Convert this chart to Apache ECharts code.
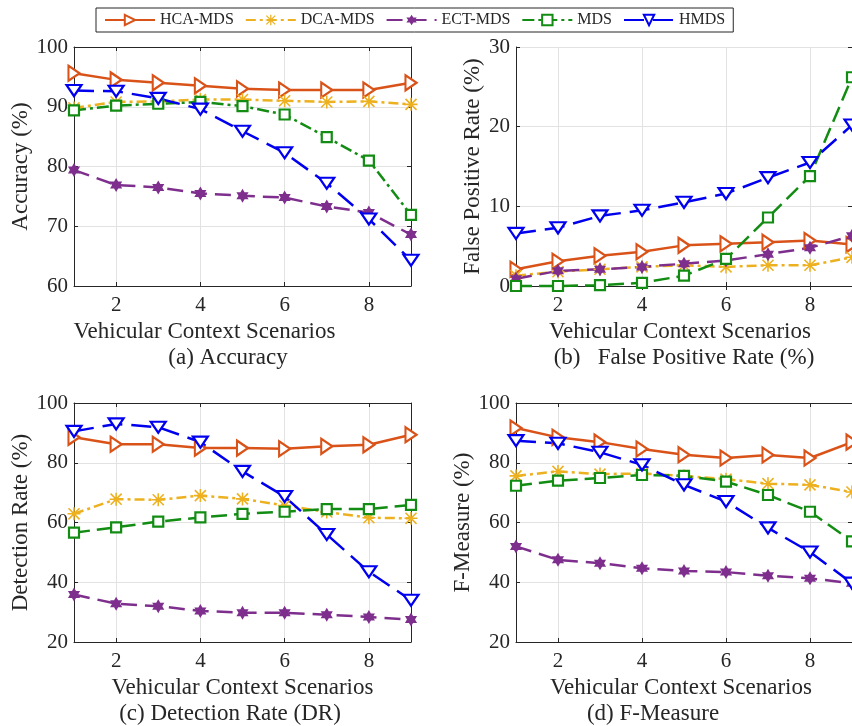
<!DOCTYPE html>
<html><head><meta charset="utf-8">
<script src="https://cdn.jsdelivr.net/npm/echarts@6/dist/echarts.min.js"></script>
<style>html,body{margin:0;padding:0;background:#fff}#c{width:852px;height:726px}</style>
</head><body><div id="c"></div>
<script>
// ---- data ----
const scenarios = ['1', '2', '3', '4', '5', '6', '7', '8', '9'];
const seriesNames = ['HCA-MDS', 'DCA-MDS', 'ECT-MDS', 'MDS', 'HMDS'];

const accHCA  = [95.6, 94.5, 94.0, 93.5, 93.0, 92.8, 92.8, 92.8, 94.0];
const accDCA  = [89.8, 90.8, 90.9, 91.2, 91.2, 91.0, 90.8, 90.9, 90.4];
const accECT  = [79.4, 76.9, 76.5, 75.5, 75.1, 74.8, 73.3, 72.3, 68.6];
const accMDS  = [89.4, 90.2, 90.5, 90.8, 90.1, 88.7, 84.9, 81.0, 71.9];
const accHMDS = [92.7, 92.6, 91.4, 89.6, 85.9, 82.3, 77.2, 71.2, 64.3];

const fprHCA  = [2.1, 3.1, 3.8, 4.3, 5.1, 5.3, 5.5, 5.7, 5.2];
const fprDCA  = [1.3, 1.8, 2.1, 2.4, 2.6, 2.4, 2.6, 2.6, 3.6];
const fprECT  = [0.9, 1.9, 2.1, 2.4, 2.8, 3.2, 4.0, 4.8, 6.3];
const fprMDS  = [0.0, 0.0, 0.1, 0.4, 1.3, 3.4, 8.6, 13.8, 26.2];
const fprHMDS = [6.6, 7.3, 8.8, 9.5, 10.5, 11.6, 13.6, 15.5, 20.2];

const drHCA  = [88.5, 86.2, 86.2, 84.9, 84.9, 84.7, 85.5, 86.0, 89.4];
const drDCA  = [62.9, 67.8, 67.6, 69.0, 67.9, 65.7, 63.5, 61.6, 61.4];
const drECT  = [35.9, 32.8, 32.0, 30.4, 29.8, 29.8, 29.1, 28.4, 27.5];
const drMDS  = [56.6, 58.4, 60.3, 61.7, 62.9, 63.6, 64.5, 64.5, 65.9];
const drHMDS = [90.5, 93.0, 91.9, 86.9, 77.1, 68.7, 56.0, 43.5, 34.0];

const fmHCA  = [91.6, 88.5, 86.9, 84.6, 82.7, 81.6, 82.6, 81.6, 86.9];
const fmDCA  = [75.6, 77.1, 76.2, 76.4, 75.6, 74.5, 73.0, 72.6, 70.2];
const fmECT  = [52.0, 47.5, 46.4, 44.7, 43.8, 43.4, 42.2, 41.3, 39.7];
const fmMDS  = [72.3, 74.0, 74.9, 75.9, 75.6, 73.7, 69.2, 63.6, 53.7];
const fmHMDS = [87.4, 86.5, 83.5, 79.3, 72.6, 67.0, 58.2, 50.1, 39.7];

const yTitles  = ['Accuracy (%)', 'False Positive Rate (%)', 'Detection Rate (%)', 'F-Measure (%)'];
const xTitle   = 'Vehicular Context Scenarios';
const captions = ['(a) Accuracy', '(b)   False Positive Rate (%)', '(c) Detection Rate (DR)', '(d) F-Measure'];
const yMins = [60, 0, 20, 20];
const yMaxs = [100, 30, 100, 100];
const yIntervals = [10, 10, 20, 20];

// ---- layout / style ----
const panelData = [
  [accHCA, accDCA, accECT, accMDS, accHMDS],
  [fprHCA, fprDCA, fprECT, fprMDS, fprHMDS],
  [drHCA, drDCA, drECT, drMDS, drHMDS],
  [fmHCA, fmDCA, fmECT, fmMDS, fmHMDS]
];
const grids = [
  {left: 74, top: 47, width: 337, height: 239},
  {left: 516, top: 47, width: 337, height: 239},
  {left: 74, top: 403, width: 337, height: 239},
  {left: 516, top: 403, width: 337, height: 239}
];
const yNameGaps = [42, 32, 42, 42];
const xNamePad = [[0, 76, 0, 0], [0, 8, 0, 0], [0, 0, 0, 0], [0, 6, 0, 0]];
const captionPos = [[228, 358], [684, 358], [230, 714], [653, 714]];

const FONT = 'Liberation Serif';
const AX = '#262626';
const GRIDC = '#e2e2e2';

const SYM_RIGHT = 'path://M0,0 L17,10 L0,20 Z';
const SYM_DOWN = 'path://M0,0 L20,0 L10,17 Z';
const SYM_SQUARE = 'rect';
const SYM_AST = 'path://M0,8.8 L20,8.8 L20,11.2 L0,11.2 Z M8.8,0 L11.2,0 L11.2,20 L8.8,20 Z M2.35,0.65 L19.35,17.65 L17.65,19.35 L0.65,2.35 Z M17.65,0.65 L19.35,2.35 L2.35,19.35 L0.65,17.65 Z';
const SYM_HEX = 'path://M10,0 L12.89,5 L18.66,5 L15.77,10 L18.66,15 L12.89,15 L10,20 L7.11,15 L1.34,15 L4.23,10 L1.34,5 L7.11,5 Z';

const styles = [
  {color: '#D95319', dash: 'solid', symbol: SYM_RIGHT, size: [13, 15], open: true},
  {color: '#EDB120', dash: [10, 4, 3, 4], symbol: SYM_AST, size: 13, open: false},
  {color: '#7E2F8E', dash: [16, 8], symbol: SYM_HEX, size: 14, open: false},
  {color: '#128C12', dash: [16, 7], symbol: SYM_SQUARE, size: 10, open: true},
  {color: '#0000EE', dash: [20, 9], symbol: SYM_DOWN, size: [15, 13], open: true}
];

const tickEven = function (idx) { return idx % 2 === 1; };

const xAxes = [], yAxes = [], series = [], graphics = [];
for (let g = 0; g < 4; g++) {
  xAxes.push({
    type: 'category', gridIndex: g, data: scenarios, boundaryGap: false,
    axisLine: {show: true, lineStyle: {color: AX, width: 1}},
    axisTick: {show: true, inside: true, length: 4, interval: tickEven, lineStyle: {color: AX}},
    axisLabel: {show: true, interval: tickEven, margin: 9, color: AX, fontFamily: FONT, fontSize: 21},
    splitLine: {show: true, interval: tickEven, lineStyle: {color: GRIDC, width: 1}},
    name: xTitle, nameLocation: 'middle', nameGap: 34,
    nameTextStyle: {color: AX, fontFamily: FONT, fontSize: 23, lineHeight: 23, padding: xNamePad[g]}
  });
  xAxes.push({
    type: 'category', gridIndex: g, data: scenarios, boundaryGap: false, position: 'top',
    axisLine: {show: true, lineStyle: {color: AX, width: 1}},
    axisTick: {show: true, inside: true, length: 4, interval: tickEven, lineStyle: {color: AX}},
    axisLabel: {show: false}, splitLine: {show: false}
  });
  yAxes.push({
    type: 'value', gridIndex: g, min: yMins[g], max: yMaxs[g], interval: yIntervals[g],
    axisLine: {show: true, lineStyle: {color: AX, width: 1}},
    axisTick: {show: true, inside: true, length: 4, lineStyle: {color: AX}},
    axisLabel: {show: true, margin: 6, color: AX, fontFamily: FONT, fontSize: 21},
    splitLine: {show: true, lineStyle: {color: GRIDC, width: 1}},
    name: yTitles[g], nameLocation: 'middle', nameGap: yNameGaps[g],
    nameTextStyle: {color: AX, fontFamily: FONT, fontSize: 23, lineHeight: 23}
  });
  yAxes.push({
    type: 'value', gridIndex: g, min: yMins[g], max: yMaxs[g], interval: yIntervals[g], position: 'right',
    axisLine: {show: true, lineStyle: {color: AX, width: 1}},
    axisTick: {show: true, inside: true, length: 4, lineStyle: {color: AX}},
    axisLabel: {show: false}, splitLine: {show: false}
  });
  for (let s = 0; s < 5; s++) {
    const st = styles[s];
    let dash = st.dash;
    if (s === 3 && g === 0) dash = [12, 4, 3, 4];
    series.push({
      type: 'line', name: seriesNames[s], xAxisIndex: g * 2, yAxisIndex: g * 2,
      data: panelData[g][s],
      symbol: st.symbol, symbolSize: st.size, symbolKeepAspect: true, showSymbol: true,
      lineStyle: {color: st.color, width: 2.5, type: dash},
      itemStyle: st.open ? {color: '#ffffff', borderColor: st.color, borderWidth: 2.2}
                         : {color: st.color, borderWidth: 0},
      emphasis: {disabled: true}, silent: true, clip: false
    });
  }
  graphics.push({
    type: 'text', x: captionPos[g][0], y: captionPos[g][1],
    style: {text: captions[g], fill: AX, font: '23px "' + FONT + '"', textAlign: 'center', textVerticalAlign: 'middle'}
  });
}

const chart = echarts.init(document.getElementById('c'), null, {renderer: 'canvas'});
chart.setOption({
  animation: false,
  backgroundColor: '#ffffff',
  grid: grids.map(function (r) { return Object.assign({show: false, containLabel: false}, r); }),
  legend: {
    data: seriesNames, left: 96, top: 8, orient: 'horizontal',
    itemWidth: 50, itemHeight: 13, itemGap: 11, padding: [4, 8],
    borderColor: AX, borderWidth: 1, backgroundColor: '#ffffff',
    textStyle: {color: AX, fontFamily: FONT, fontSize: 16}
  },
  xAxis: xAxes, yAxis: yAxes, series: series,
  graphic: graphics
});
</script>
</body></html>
